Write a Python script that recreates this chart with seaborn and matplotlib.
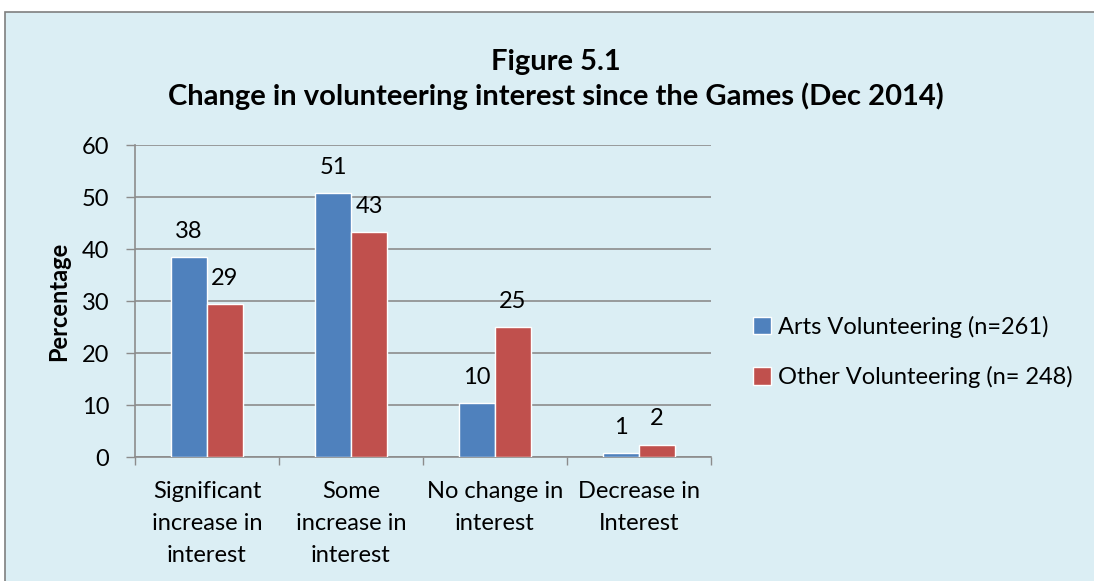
import matplotlib
matplotlib.use("Agg")
import matplotlib.pyplot as plt
import seaborn as sns
import pandas as pd
from matplotlib.patches import Rectangle, Patch

categories = ["Significant\nincrease in\ninterest", "Some\nincrease in\ninterest",
              "No change in\ninterest", "Decrease in\nInterest"]
series_names = ["Arts Volunteering (n=261)", "Other Volunteering (n= 248)"]
arts_values = [38.4, 50.7, 10.3, 0.8]
other_values = [29.4, 43.2, 25.0, 2.4]
y_ticks = [0, 10, 20, 30, 40, 50, 60]

BG = "#DBEEF4"
BLUE = "#4F81BD"
RED = "#C0504D"
GRID = "#8C8C8C"
FS = 17

sns.set_theme(style="white")
plt.rcParams["font.family"] = ["Lato", "DejaVu Sans"]
plt.rcParams["text.color"] = "black"
plt.rcParams["axes.labelcolor"] = "black"
plt.rcParams["xtick.labelcolor"] = "black"
plt.rcParams["ytick.labelcolor"] = "black"

df = pd.DataFrame({
    "category": categories * 2,
    "series": [series_names[0]] * 4 + [series_names[1]] * 4,
    "value": arts_values + other_values,
})

fig = plt.figure(figsize=(10.94, 5.81), dpi=100)
fig.patch.set_facecolor("white")
# chart area background with border
fig.patches.append(Rectangle((5 / 1094, -0.05), 1.1, 1 - 12 / 581 + 0.05,
                             transform=fig.transFigure, facecolor=BG,
                             edgecolor="#7F7F7F", linewidth=1.2, zorder=-10))

ax = fig.add_axes([135 / 1094, (581 - 457) / 581, (711 - 135) / 1094, (457 - 145) / 581])
ax.set_zorder(1)
ax.set_facecolor(BG)
ax.patch.set_alpha(0)

sns.barplot(data=df, x="category", y="value", hue="series",
            palette=[BLUE, RED], width=0.5, saturation=1, ax=ax,
            legend=False, zorder=3)

for cont, vals in zip(ax.containers, [arts_values, other_values]):
    ax.bar_label(cont, labels=[f"{v:.0f}" for v in vals], padding=11,
                 fontsize=FS, color="black")

ax.set_ylim(0, 60)
ax.set_xlim(-0.5, 3.5)
ax.set_yticks(y_ticks)
ax.set_yticklabels([str(t) for t in y_ticks], fontsize=FS)
ax.tick_params(axis="y", which="major", direction="out", length=6.5, width=1,
               color=GRID, left=True, pad=12)
ax.tick_params(axis="x", which="major", length=0, pad=17, labelsize=FS)
ax.set_xticks(range(4))
ax.set_xticklabels(categories, linespacing=1.65)
ax.set_xticks([-0.5, 0.5, 1.5, 2.5, 3.5], minor=True)
ax.tick_params(axis="x", which="minor", direction="out", length=6, width=1,
               color=GRID, bottom=True)

ax.grid(axis="y", color=GRID, linewidth=1.2, zorder=0)
ax.set_axisbelow(True)
for s in ["top", "right"]:
    ax.spines[s].set_visible(False)
for s in ["left", "bottom"]:
    ax.spines[s].set_color(GRID)
    ax.spines[s].set_linewidth(1.2)

ax.set_xlabel("")
ax.set_ylabel("Percentage", fontsize=FS, fontweight="bold", labelpad=8)

fig.text(556 / 1094, 1 - 62 / 581, "Figure 5.1", ha="center", va="center",
         fontsize=21, fontweight="bold")
fig.text(556 / 1094, 1 - 96 / 581,
         "Change in volunteering interest since the Games (Dec 2014)",
         ha="center", va="center", fontsize=21, fontweight="bold")

handles = [Patch(facecolor=BLUE), Patch(facecolor=RED)]
fig.legend(handles, series_names, loc="center left",
           bbox_to_anchor=(753 / 1094, 1 - 352 / 581), frameon=False,
           fontsize=FS, handlelength=0.75, handleheight=0.75, handletextpad=0.3,
           labelspacing=1.2, borderaxespad=0, borderpad=0)

fig.savefig("out.png", dpi=100, facecolor=fig.get_facecolor())
